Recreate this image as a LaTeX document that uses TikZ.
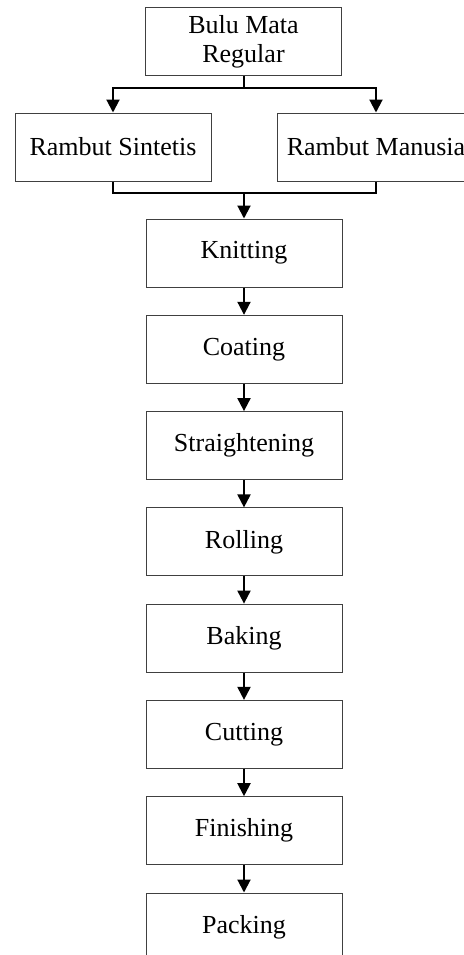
\documentclass[tikz,border=0pt]{standalone}
\usepackage{fontspec}
\setmainfont{Liberation Serif}
\usetikzlibrary{arrows.meta}

\begin{document}
\begin{tikzpicture}[x=0.5pt,y=-0.5pt,line cap=butt,
    box/.style={draw=black!75,line width=0.5pt,minimum width=98pt,minimum height=34pt,inner sep=0pt,align=center,font=\fontsize{13}{14.5}\selectfont},
    link/.style={line width=1pt},
    flow/.style={link,-{Triangle[width=6.5pt,length=6.5pt]}}]
  \useasboundingbox (0,0) rectangle (463,955);
  \node[box] (bulu) at (243.5,41.5) {Bulu Mata\\Regular};
  \node[box] (sintetis) at (113,147) {Rambut Sintetis}; \node[box,minimum width=99pt] (manusia) at (376,147) {Rambut Manusia};
  \node[box] (knit) at (244,253) {Knitting}; \node[box] (coat) at (244,349.3) {Coating};
  \node[box] (straight) at (244,445.6) {Straightening}; \node[box] (roll) at (244,541.9) {Rolling};
  \node[box] (bake) at (244,638.1) {Baking}; \node[box] (cut) at (244,734.4) {Cutting};
  \node[box] (finish) at (244,830.7) {Finishing}; \node[box] (pack) at (244,927) {Packing};
  \coordinate (split) at (243.5,88); \coordinate (join) at (244,193);
  \draw[link] (bulu.south) -- (split);
  \draw[flow] (split) -| (sintetis.north); \draw[flow] (split) -| (manusia.north);
  \draw[link] (sintetis.south) |- (join) -| (manusia.south);
  \draw[flow] (join) -- (knit.north);
  \draw[flow] (knit) -- (coat); \draw[flow] (coat) -- (straight); \draw[flow] (straight) -- (roll);
  \draw[flow] (roll) -- (bake); \draw[flow] (bake) -- (cut); \draw[flow] (cut) -- (finish);
  \draw[flow] (finish) -- (pack);
\end{tikzpicture}
\end{document}
